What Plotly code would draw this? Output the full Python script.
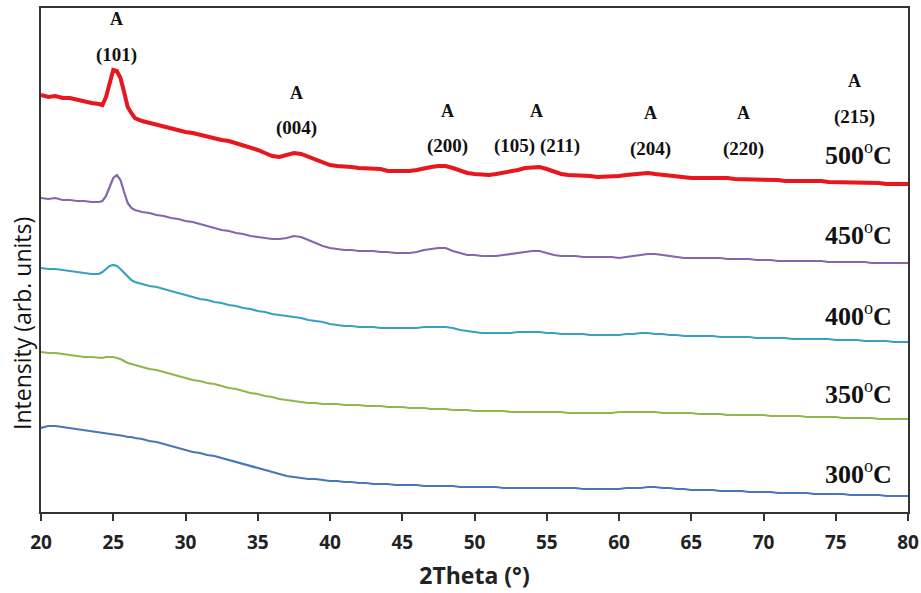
import plotly.graph_objects as go

# 2-theta sampling grid (degrees)
two_theta = ([20.0 + 0.5 * i for i in range(8)]
             + [24.0 + 0.25 * i for i in range(11)]
             + [27.0 + 0.5 * i for i in range(107)])

# Intensities (arb. units)
i_500 = [417, 415, 416, 414, 414, 412, 411, 409,
         408, 407, 415, 430, 442, 441, 434, 420, 405, 399, 394,
         391, 389, 387, 385, 384, 382, 380, 379, 377, 376,
         374, 372, 371, 369, 367, 365, 362, 359, 356, 355,
         357, 359, 358, 355, 352, 349, 347, 346, 346, 345,
         344, 344, 343, 343, 341, 341, 340, 341, 342, 344,
         345, 346, 346, 344, 341, 339, 338, 337, 337, 338,
         339, 340, 342, 344, 345, 345, 343, 340, 338, 337,
         337, 336, 336, 335, 335, 335, 336, 337, 338, 339,
         339, 338, 337, 336, 335, 335, 334, 334, 334, 334,
         335, 334, 333, 333, 333, 332, 332, 332, 332, 331,
         331, 332, 331, 331, 331, 330, 330, 330, 330, 330,
         329, 329, 329, 328, 328, 328, 328]

i_450 = [314, 313, 314, 312, 312, 311, 311, 310,
         310, 311, 316, 326, 334, 337, 332, 320, 309, 304, 302,
         300, 299, 297, 296, 294, 293, 291, 290, 288, 286,
         284, 282, 281, 279, 278, 276, 275, 274, 273, 273,
         274, 276, 275, 272, 269, 266, 264, 263, 262, 262,
         261, 261, 261, 260, 260, 259, 259, 259, 260, 262,
         263, 264, 264, 261, 259, 257, 257, 256, 256, 256,
         257, 258, 259, 260, 261, 261, 259, 257, 256, 256,
         256, 255, 255, 255, 255, 255, 254, 255, 256, 257,
         258, 258, 257, 256, 255, 254, 254, 254, 254, 254,
         254, 253, 253, 253, 253, 252, 252, 252, 251, 251,
         251, 251, 251, 251, 251, 250, 250, 250, 250, 250,
         250, 249, 249, 249, 249, 249, 249]

i_400 = [244, 243, 243, 242, 241, 240, 239, 238,
         238, 240, 243, 246, 247, 246, 243, 239, 235, 232, 230,
         228, 226, 225, 223, 221, 219, 217, 215, 213, 212,
         210, 209, 207, 206, 204, 203, 201, 200, 198, 197,
         196, 195, 194, 192, 191, 190, 188, 187, 186, 186,
         185, 185, 185, 184, 184, 184, 184, 184, 184, 185,
         185, 185, 185, 184, 182, 181, 180, 179, 179, 179,
         179, 179, 180, 180, 180, 180, 179, 179, 178, 178,
         178, 178, 177, 177, 177, 177, 177, 178, 178, 179,
         179, 178, 178, 177, 177, 176, 176, 176, 176, 176,
         175, 175, 175, 175, 175, 174, 174, 174, 174, 174,
         173, 173, 173, 173, 173, 173, 172, 172, 172, 172,
         171, 171, 171, 171, 170, 170, 170]

i_350 = [160, 159, 159, 158, 157, 156, 155, 155,
         154, 154, 155, 155, 155, 154, 153, 151, 149, 148, 147,
         145, 143, 142, 140, 138, 136, 134, 132, 131, 129,
         128, 126, 124, 123, 121, 119, 118, 116, 115, 113,
         112, 111, 110, 109, 109, 108, 108, 108, 107, 107,
         107, 106, 106, 106, 105, 105, 105, 104, 104, 104,
         103, 103, 103, 102, 102, 102, 101, 101, 101, 101,
         101, 100, 100, 100, 100, 100, 100, 100, 100, 99,
         99, 99, 99, 99, 99, 99, 100, 100, 100, 100,
         100, 100, 99, 99, 99, 99, 99, 98, 98, 98,
         98, 97, 97, 97, 97, 97, 97, 96, 96, 96,
         96, 96, 95, 95, 95, 95, 95, 94, 94, 94,
         94, 94, 93, 93, 93, 93, 93]

i_300 = [84, 86, 86, 85, 84, 83, 82, 81,
         80, 79, 79, 78, 78, 77, 77, 76, 75, 75, 74,
         73, 71, 70, 68, 66, 64, 62, 60, 59, 57,
         56, 54, 52, 50, 48, 46, 44, 42, 40, 38,
         36, 35, 34, 33, 33, 32, 31, 31, 30, 30,
         29, 29, 28, 28, 28, 27, 27, 27, 27, 26,
         26, 26, 26, 26, 25, 25, 25, 25, 25, 25,
         24, 24, 24, 24, 24, 24, 24, 24, 24, 24,
         24, 23, 23, 23, 23, 23, 23, 24, 24, 24,
         25, 25, 24, 24, 23, 23, 22, 22, 22, 22,
         21, 21, 21, 21, 20, 20, 20, 20, 19, 19,
         19, 19, 19, 18, 18, 18, 18, 18, 17, 17,
         17, 17, 17, 16, 16, 16, 16]

series = [
    ("500", i_500, "#E8161D", 4.0),
    ("450", i_450, "#8566AC", 2.2),
    ("400", i_400, "#38A2BE", 2.2),
    ("350", i_350, "#93B64C", 2.2),
    ("300", i_300, "#4777B8", 2.2),
]
for _, s, _, _ in series:
    assert len(s) == len(two_theta), len(s)

# Peak labels (anatase), positions in 2-theta
peak_pos = [25.2, 37.7, 48.1, 54.3, 62.2, 68.6, 76.3]
peak_hkl = ["(101)", "(004)", "(200)", "(105) (211)", "(204)", "(220)", "(215)"]
peak_a_y = [0.978, 0.831, 0.796, 0.796, 0.792, 0.792, 0.855]
peak_l_y = [0.907, 0.762, 0.726, 0.726, 0.720, 0.720, 0.784]

temps = ["500", "450", "400", "350", "300"]
temp_y = [0.712, 0.552, 0.391, 0.238, 0.079]

fig = go.Figure()
for name, vals, col, w in series:
    fig.add_trace(go.Scatter(x=two_theta, y=vals, mode="lines", name=name + " °C",
                             line=dict(color=col, width=w), showlegend=False))

serif = "Liberation Serif, Times New Roman, serif"
ann = []
for xp, lab, ay, ly in zip(peak_pos, peak_hkl, peak_a_y, peak_l_y):
    ann.append(dict(x=xp, y=ay, xref="x", yref="paper", text="<b>A</b>", showarrow=False,
                    font=dict(family=serif, size=18, color="#111"), yanchor="middle"))
    ann.append(dict(x=xp, y=ly, xref="x", yref="paper", text="<b>" + lab + "</b>", showarrow=False,
                    font=dict(family=serif, size=19, color="#111"), yanchor="middle"))
for t, ty in zip(temps, temp_y):
    ann.append(dict(x=76.6, y=ty, xref="x", yref="paper",
                    text="<b>" + t + "</b><sup>o</sup><b>C</b>", showarrow=False,
                    font=dict(family=serif, size=26, color="#111"), yanchor="middle"))
ann.append(dict(x=-0.022, y=0.375, xref="paper", yref="paper", text="Intensity (arb. units)",
                textangle=-90, showarrow=False, xanchor="center", yanchor="middle",
                font=dict(family="Open Sans", size=23, color="#111")))

fig.update_layout(
    width=921, height=593,
    margin=dict(l=41, r=13, t=8, b=81),
    plot_bgcolor="white", paper_bgcolor="white",
    annotations=ann,
    xaxis=dict(range=[20, 80], dtick=5, tick0=20, ticks="outside", ticklen=7, tickwidth=2,
               tickcolor="#333", showline=True, linewidth=2, linecolor="#333", mirror=True,
               showgrid=False, zeroline=False, automargin=False, ticklabelstandoff=5,
               tickfont=dict(family="Open Sans", size=19, color="#222", weight="bold"),
               title=dict(text="<b>2Theta (°)</b>", standoff=14,
                          font=dict(family="Open Sans", size=23, color="#222"))),
    yaxis=dict(range=[0, 504], showticklabels=False, ticks="", showline=True, linewidth=2,
               linecolor="#333", mirror=True, showgrid=False, zeroline=False, automargin=False),
)

fig.write_html("out.html")
